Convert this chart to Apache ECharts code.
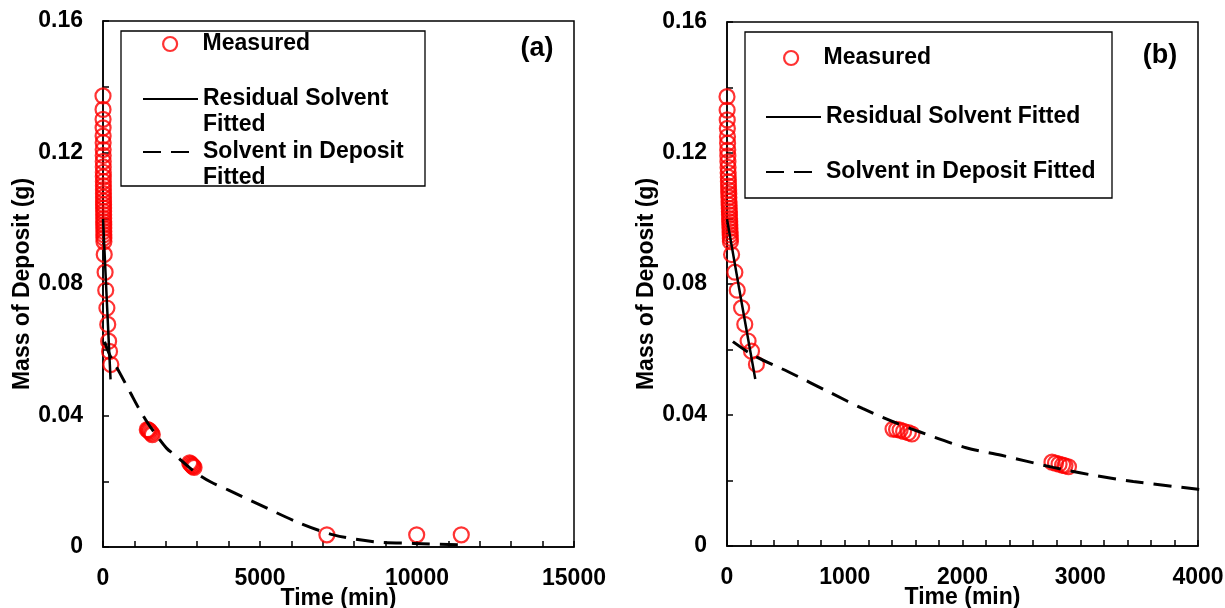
<!DOCTYPE html>
<html>
<head>
<meta charset="utf-8">
<script src="https://cdn.jsdelivr.net/npm/echarts@6/dist/echarts.min.js"></script>
<style>
html,body{margin:0;padding:0;background:#fff;}
#c{width:1225px;height:608px;}
</style>
</head>
<body>
<div id="c"></div>
<script>
// ---- data ----
const measuredTime = [0,1,2,3,4,5,6,7,8,9,10,11,12,13,14,15,16,17,18,19,20,21,22,23,24,25,26,27,28,29,
  39,67,87,124,151,179,208,250,
  1410,1440,1470,1500,1540,1570,
  2760,2790,2820,2850,2870,2900,
  7130,9990,11410];
const measuredMass = [0.1372,0.1331,0.1301,0.1275,0.1250,0.1230,0.1209,0.1191,0.1173,0.1156,
  0.1140,0.1126,0.1112,0.1099,0.1087,0.1075,0.1064,0.1052,0.1041,0.1031,
  0.1021,0.1011,0.1000,0.0990,0.0980,0.0970,0.0960,0.0950,0.0940,0.0929,
  0.0890,0.0836,0.0781,0.0727,0.0677,0.0626,0.0595,0.0555,
  0.0357,0.0356,0.0354,0.0350,0.0346,0.0342,
  0.0256,0.0253,0.0250,0.0247,0.0245,0.0242,
  0.0037,0.0037,0.0037];
const residualTime = [0,120,240];
const residualMass = [0.0998,0.0752,0.0510];
const depositTime = [50,220,520,890,1150,1440,1640,2030,2330,2770,3080,3450,4000,5000,6280,7340,8620,9890,11500];
const depositMass = [0.0624,0.0583,0.0532,0.0466,0.0420,0.0375,0.0348,0.0300,0.0277,0.0240,0.0218,0.0197,0.0173,0.0128,0.0072,0.0037,0.0016,0.0011,0.0006];
const yTicks = [0,0.04,0.08,0.12,0.16];
const xMaxA = 15000, xStepA = 5000;
const xMaxB = 4000, xStepB = 1000;

const names = {m:'Measured', r:'Residual Solvent Fitted', d:'Solvent in Deposit Fitted'};
const pairs = (xs, ys) => xs.map((x,i)=>[x, ys[i]]);
const FONT = '"Liberation Sans", Arial, sans-serif';
const axisLineStyle = {color:'#000', width:1.5};
const lbl = {fontSize:23, fontWeight:'bold', color:'#000', fontFamily:FONT};

function xAxis(gi, max, step, minorSplit){
  return {gridIndex:gi, type:'value', min:0, max:max, interval:step,
    axisLine:{show:true, lineStyle:axisLineStyle},
    axisTick:{show:true, inside:true, length:6, lineStyle:axisLineStyle},
    minorTick:{show:true, splitNumber:minorSplit, length:6, lineStyle:axisLineStyle},
    splitLine:{show:false},
    axisLabel:Object.assign({margin:20, formatter:v=>String(v)}, lbl),
    name:'Time (min)', nameLocation:'middle', nameGap:40, nameMoveOverlap:false, nameTextStyle:lbl};
}
function yAxis(gi){
  return {gridIndex:gi, type:'value', min:0, max:0.16, interval:0.04,
    axisLine:{show:true, lineStyle:axisLineStyle},
    axisTick:{show:true, inside:true, length:6, lineStyle:axisLineStyle},
    minorTick:{show:true, splitNumber:2, length:6, lineStyle:axisLineStyle},
    splitLine:{show:false},
    axisLabel:Object.assign({margin:20, formatter:v=>{
      const t = yTicks.find(k=>Math.abs(k-v)<1e-9); return t===0?'0':String(t);}}, lbl),
    name:'Mass of Deposit (g)', nameLocation:'middle', nameGap:69, nameMoveOverlap:false, nameTextStyle:lbl};
}
function seriesFor(gi){
  return [
    {name:names.m, type:'scatter', xAxisIndex:gi, yAxisIndex:gi, symbol:'circle', symbolSize:15,
      itemStyle:{color:'rgba(255,255,255,0)', borderColor:'#ff0000', borderWidth:2.2}, z:2,
      data:pairs(measuredTime, measuredMass)},
    {name:names.r, type:'line', xAxisIndex:gi, yAxisIndex:gi, showSymbol:false, symbol:'none',
      color:'#000', itemStyle:{color:'#000'},
      lineStyle:{color:'#000', width:2.5, type:'solid'}, z:3, clip:true,
      data:pairs(residualTime, residualMass)},
    {name:names.d, type:'line', xAxisIndex:gi, yAxisIndex:gi, showSymbol:false, symbol:'none', smooth:0.3,
      color:'#000', itemStyle:{color:'#000'},
      lineStyle:{color:'#000', width:3, type:[18,10]}, z:3, clip:true,
      data:pairs(depositTime, depositMass)}
  ];
}
const legTxt = {fontSize:23, fontWeight:'bold', color:'#000', fontFamily:FONT, lineHeight:26};
const mItem = {name:names.m, icon:'circle', itemStyle:{color:'#fff', borderColor:'#ff0000', borderWidth:2.2}};
const lineItem = n => ({name:n, itemStyle:{opacity:0}});
function legend(left, top, item, fmt){
  const o = {left:left, top:top, padding:0, orient:'vertical', itemWidth:55, itemHeight:14, itemGap:0,
    selectedMode:false, data:[item], textStyle:legTxt};
  if (fmt) o.formatter = fmt;
  return o;
}
// two-line legend label whose first line sits level with the icon
const wrap = n => '\u00a0\n' + n.replace(' Fitted', '\nFitted');

const option = {
  animation:false,
  backgroundColor:'#fff',
  grid:[
    {left:103, top:21, width:471, height:526, show:true, borderColor:'#000', borderWidth:1.5, containLabel:false, outerBoundsMode:'none'},
    {left:727, top:22, width:471, height:524, show:true, borderColor:'#000', borderWidth:1.5, containLabel:false, outerBoundsMode:'none'}
  ],
  xAxis:[xAxis(0, xMaxA, xStepA, 5), xAxis(1, xMaxB, xStepB, 5)],
  yAxis:[yAxis(0), yAxis(1)],
  legend:[
    legend(162, 31, mItem),
    legend(142, 60, lineItem(names.r), wrap),
    legend(142, 113, lineItem(names.d), wrap),
    legend(783, 45, mItem),
    legend(765, 104, lineItem(names.r)),
    legend(765, 159, lineItem(names.d))
  ],
  graphic:[
    {type:'rect', shape:{x:121, y:31, width:304, height:155}, style:{fill:'#fff', stroke:'#000', lineWidth:1.3}, z:-1, silent:true},
    {type:'rect', shape:{x:745, y:32, width:367, height:166}, style:{fill:'#fff', stroke:'#000', lineWidth:1.3}, z:-1, silent:true},
    {type:'text', x:537, y:49, style:{text:'(a)', font:'bold 27px '+FONT, fill:'#000', align:'center', verticalAlign:'middle'}},
    {type:'text', x:1160, y:56, style:{text:'(b)', font:'bold 27px '+FONT, fill:'#000', align:'center', verticalAlign:'middle'}}
  ],
  series: seriesFor(0).concat(seriesFor(1))
};
const chart = echarts.init(document.getElementById('c'), null, {renderer:'canvas'});
chart.setOption(option);
</script>
</body>
</html>
